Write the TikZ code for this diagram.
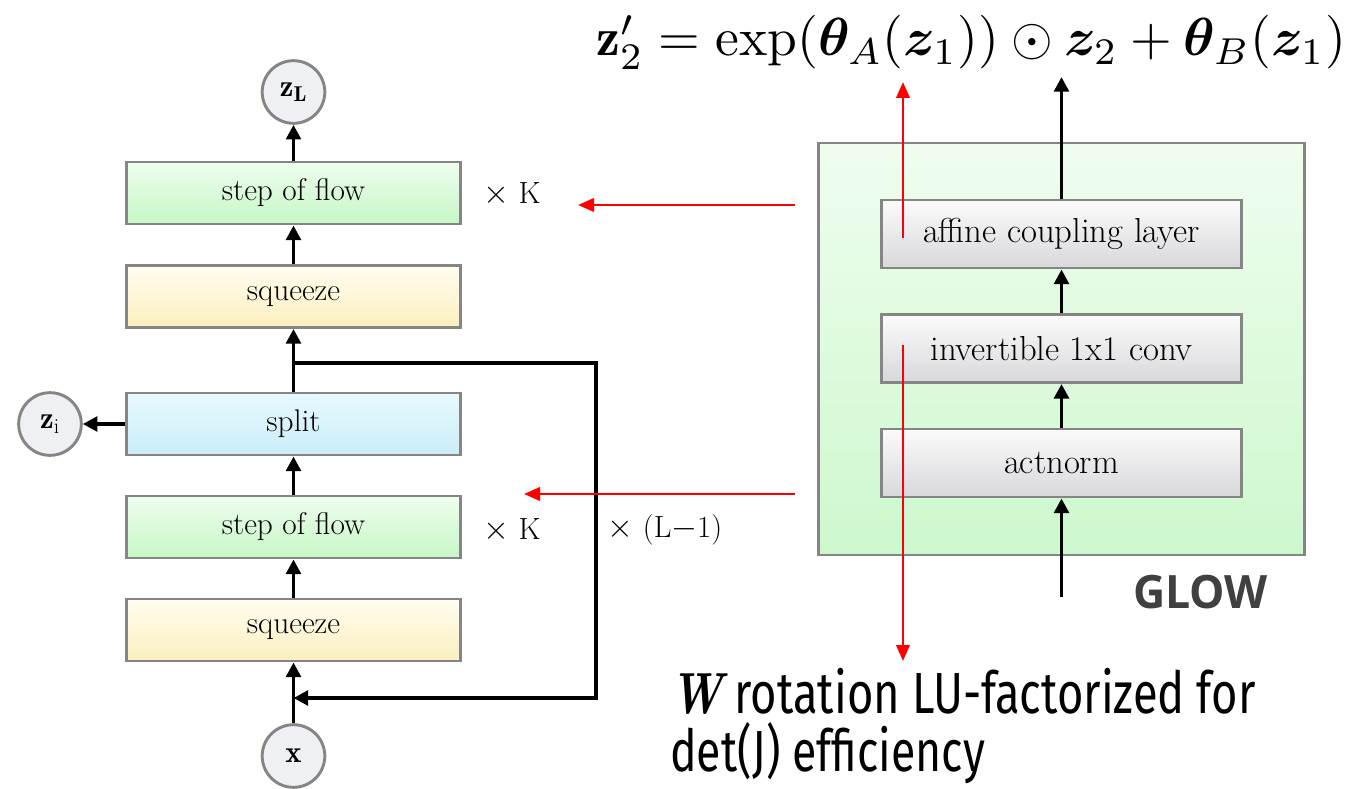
\documentclass[tikz,border=0pt]{standalone}
\usepackage{amsmath,bm}
\usepackage{fontspec}
\usetikzlibrary{arrows.meta}
\newfontfamily\firafont{Fira Sans}
\newfontfamily\glowfont{Open Sans}
\definecolor{bordergray}{HTML}{858585}
\definecolor{sofTop}{HTML}{EEFDEE}
\definecolor{sofBot}{HTML}{C6F7C6}
\definecolor{sqTop}{HTML}{FFFDF0}
\definecolor{sqBot}{HTML}{FCEFBE}
\definecolor{spTop}{HTML}{E8F9FE}
\definecolor{spBot}{HTML}{C9EDF9}
\definecolor{glTop}{HTML}{EFFDEF}
\definecolor{glBot}{HTML}{CDF8CD}
\definecolor{gbTop}{HTML}{FBFBFB}
\definecolor{gbBot}{HTML}{D8D8DB}
\definecolor{circfill}{HTML}{EFF0F3}
\definecolor{glowgray}{HTML}{404040}
\tikzset{
  box/.style={draw=bordergray, line width=2.2pt, minimum width=250pt, minimum height=46.5pt, inner sep=0pt, font=\fontsize{23.5}{28}\selectfont},
  sofbox/.style={box, top color=sofTop, bottom color=sofBot},
  sqbox/.style={box, top color=sqTop, bottom color=sqBot},
  spbox/.style={box, top color=spTop, bottom color=spBot},
  gbox/.style={box, minimum width=270pt, minimum height=51pt, top color=gbTop, bottom color=gbBot, font=\fontsize{26}{30}\selectfont},
  glowbox/.style={draw=bordergray, line width=2.2pt, minimum width=365pt, minimum height=309pt, inner sep=0pt, top color=glTop, bottom color=glBot},
  circ/.style={circle, draw=bordergray, line width=2.2pt, fill=circfill, minimum size=47pt, inner sep=0pt, font=\fontsize{23}{27}\selectfont},
  arr/.style={line width=2.8pt, -{Triangle[length=11pt,width=11pt]}},
  redarr/.style={red, line width=2pt, -{Triangle[length=12pt,width=10pt]}},
  lbl/.style={font=\fontsize{23}{27}\selectfont, inner sep=0pt}
}
\begin{document}
\begin{tikzpicture}[x=0.75pt,y=-0.75pt]
\useasboundingbox (0,0) rectangle (1351,788);
% left column
\node[circ] (zL) at (293.5,92) {$\mathbf{z}_{\mathbf{L}}$};
\node[sofbox] (sof1) at (293.5,193) {step of flow};
\node[sqbox] (sq1) at (293.5,296.5) {squeeze};
\node[spbox] (split) at (293.5,424) {split};
\node[circ] (zi) at (50,424) {$\mathbf{z}_{\mathrm{i}}$};
\node[sofbox] (sof2) at (293.5,527) {step of flow};
\node[sqbox] (sq2) at (293.5,630) {squeeze};
\node[circ] (x) at (293.5,756) {$\mathbf{x}$};
\node[lbl] (k1) at (512,194) {$\times$ K};
\node[lbl] (k2) at (512,530) {$\times$ K};
\node[lbl] (kl) at (665,530) {$\times$ (L$-$1)};
\coordinate (j) at (293.5,363);
\coordinate (jr) at (596,363);
\coordinate (fbr) at (596,698);
\coordinate (fb) at (293.5,698);
\draw[arr] (x) -- (sq2);
\draw[arr] (sq2) -- (sof2);
\draw[arr] (sof2) -- (split);
\draw[arr] (split) -- (zi);
\draw[arr] (split) -- (sq1);
\draw[arr] (sq1) -- (sof1);
\draw[arr] (sof1) -- (zL);
\draw[arr] (j) -- (jr) -- (fbr) -- (fb);
% right: GLOW
\node[glowbox] (glow) at (1061.5,349) {};
\node[gbox] (aff) at (1061.5,234) {affine coupling layer};
\node[gbox] (inv) at (1061.5,348.5) {invertible 1x1 conv};
\node[gbox] (act) at (1061.5,463) {actnorm};
\coordinate (gin) at (1061.5,597);
\coordinate (gout) at (1061.5,77);
\draw[arr] (gin) -- (act);
\draw[arr] (act) -- (inv);
\draw[arr] (inv) -- (aff);
\draw[arr] (aff) -- (gout);
\node[anchor=base west, inner sep=0pt, text=glowgray] (glowlbl) at (1133,608)
  {\resizebox{101pt}{25pt}{\glowfont\bfseries GLOW}};
% formula
\node[anchor=base west, inner sep=0pt] (formula) at (596,56)
  {\resizebox{562pt}{!}{$\mathbf{z}_2' = \exp(\bm{\theta}_A(\bm{z}_1)) \odot \bm{z}_2 + \bm{\theta}_B(\bm{z}_1)$}};
% W text
\node[anchor=base west, inner sep=0pt] (w1) at (670,713)
  {\resizebox{439pt}{\height}{\fontsize{43.5}{50}\selectfont{\bfseries\itshape W}\firafont{} rotation LU-factorized for}};
\node[anchor=base west, inner sep=0pt] (w2) at (670,771)
  {\resizebox{236pt}{\height}{\fontsize{43.5}{50}\selectfont\firafont det(J) efficiency}};
% red arrows
\coordinate (ra1) at (903,238);
\coordinate (ra1t) at (903,82);
\coordinate (ra2) at (903,345);
\coordinate (ra2t) at (903,661);
\coordinate (rh1) at (795,205);
\coordinate (rh1t) at (578,205);
\coordinate (rh2) at (795,494);
\coordinate (rh2t) at (524,494);
\draw[redarr] (ra1) -- (ra1t);
\draw[redarr] (ra2) -- (ra2t);
\draw[redarr] (rh1) -- (rh1t);
\draw[redarr] (rh2) -- (rh2t);
\end{tikzpicture}
\end{document}
